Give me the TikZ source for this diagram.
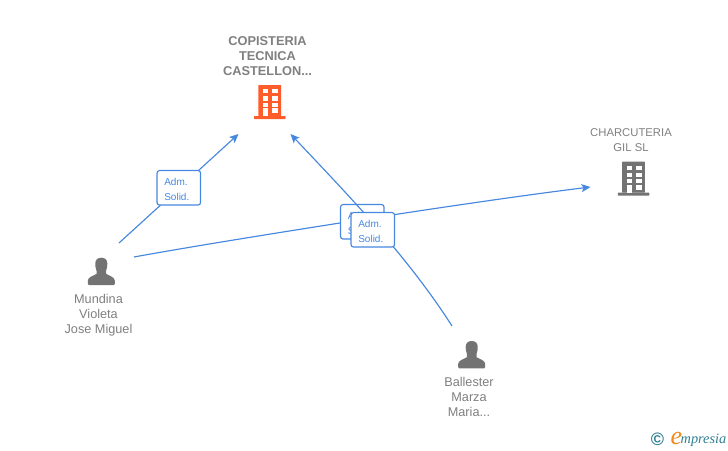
\documentclass[tikz,border=0pt]{standalone}
\usepackage{fontspec}
\setmainfont{Liberation Sans}
\newfontfamily\logofont{Liberation Serif}
\usetikzlibrary{arrows.meta}
\definecolor{linkblue}{HTML}{4688E0}
\definecolor{labelgrey}{HTML}{808080}
\definecolor{icongrey}{HTML}{737373}
\definecolor{iconorange}{HTML}{FF5C2B}
\definecolor{logoteal}{HTML}{2F7F93}
\definecolor{logoorange}{HTML}{F08A1D}
\newcommand{\buildingicon}[3]{%
  \begin{scope}[shift={(#1,#2)}]
    \fill[#3,rounded corners=0.5pt] (-11.3,-16) rectangle (11.3,15);
    \fill[#3,rounded corners=0.7pt] (-15.7,15) rectangle (15.9,18);
    \fill[white] (-6.6,-12) rectangle (-2,-7.7);
    \fill[white] (2.7,-12) rectangle (8,-7.7);
    \fill[white] (-6.6,-4.7) rectangle (-2,-0.3);
    \fill[white] (2.7,-4.7) rectangle (8,-0.3);
    \fill[white] (-6.6,1.7) rectangle (-2,5.7);
    \fill[white] (2.7,1.7) rectangle (8,5.7);
    \fill[white] (-6.6,7.3) rectangle (-2,15);
    \fill[white] (2.7,7.3) rectangle (8,12.3);
  \end{scope}}
\newcommand{\personicon}[2]{%
  \begin{scope}[shift={(#1,#2)}]
    \fill[icongrey] (-12.6,27.3)
      .. controls (-13.3,27.3) and (-13.5,26.8) .. (-13.5,26)
      -- (-13.5,23)
      .. controls (-13.3,19.5) and (-9,18.5) .. (-4.8,16.2)
      -- (-4.8,13)
      .. controls (-6,10.5) and (-6,7.5) .. (-6,5.8)
      .. controls (-6,2) and (-3.5,0) .. (0,0)
      .. controls (3.5,0) and (6,2) .. (6,5.8)
      .. controls (6,7.5) and (6,10.5) .. (4.8,13)
      -- (4.8,16.2)
      .. controls (9,18.5) and (13.3,19.5) .. (13.5,23)
      -- (13.5,26)
      .. controls (13.5,26.8) and (13.3,27.3) .. (12.6,27.3) -- cycle;
  \end{scope}}
\newcommand{\rolefirst}{\rule{0pt}{9.5pt}}
\tikzset{
  x=1pt,y=-1pt,
  link/.style={draw=linkblue,line width=1.15pt},
  linkarrow/.style={link,-{Stealth[length=9pt,width=8pt,inset=2pt]}},
  rolebox/.style={draw=linkblue,line width=1.15pt,fill=white,rounded corners=2.5pt,
    minimum width=43.5pt,minimum height=34.5pt,inner sep=0pt,text=linkblue,
    font=\fontsize{10}{15}\selectfont,align=left,text width=29pt},
  nodelabel/.style={text=labelgrey,align=center,inner sep=0pt,
    font=\fontsize{12.7}{15}\selectfont},
  companylabel/.style={nodelabel,font=\fontsize{12.8}{15}\selectfont\bfseries},
  smallcompany/.style={nodelabel,font=\fontsize{11.3}{15}\selectfont},
}
\begin{document}
\begin{tikzpicture}
\useasboundingbox[fill=white] (0,0) rectangle (728,450);
% end points of the connectors
\coordinate (mundinaA) at (119,243);
\coordinate (mundinaB) at (134,257);
\coordinate (ballesterA) at (452,326);
\coordinate (copisteriaA) at (238.5,134);
\coordinate (copisteriaB) at (290.5,134);
\coordinate (charcuteriaA) at (590.5,187);
% icons
\buildingicon{269.7}{101}{iconorange}
\buildingicon{633.5}{177.7}{icongrey}
\personicon{101.3}{257.7}
\personicon{471.7}{341}
% labels
\node[companylabel] (copisteria) at (267.5,56) {COPISTERIA\\TECNICA\\CASTELLON...};
\node[smallcompany] (charcuteria) at (631,140) {CHARCUTERIA\\GIL SL};
\node[nodelabel] (mundina) at (98.5,315.5) {Mundina\\Violeta\\Jose Miguel};
\node[nodelabel] (ballester) at (469,396.5) {Ballester\\Marza\\Maria...};
% connectors and role boxes
\draw[linkarrow] (mundinaA) -- (copisteriaA);
\node[rolebox] (role1) at (178.8,187.8) {\rolefirst Adm.\\Solid.};
\draw[linkarrow] (mundinaB) .. controls (210,243) and (460,203) .. (charcuteriaA);
\node[rolebox] (role2) at (362.3,221.8) {\rolefirst Adm.\\Solid.};
\draw[linkarrow] (ballesterA) .. controls (408,257) and (350,197) .. (copisteriaB);
\node[rolebox] (role3) at (372.8,229.8) {\rolefirst Adm.\\Solid.};
% logo
\node[inner sep=0pt,text=logoteal,font=\fontsize{18}{18}\selectfont\bfseries] (copyright) at (657.5,439) {©};
\node[inner sep=0pt,anchor=base west,text=logoorange,font=\logofont\itshape\fontsize{26}{26}\selectfont] (logoe) at (670.5,444) {e};
\node[inner sep=0pt,anchor=base west,text=logoteal,font=\logofont\itshape\fontsize{14.3}{14}\selectfont] (logotext) at (680.5,443) {mpresia};
\end{tikzpicture}
\end{document}
